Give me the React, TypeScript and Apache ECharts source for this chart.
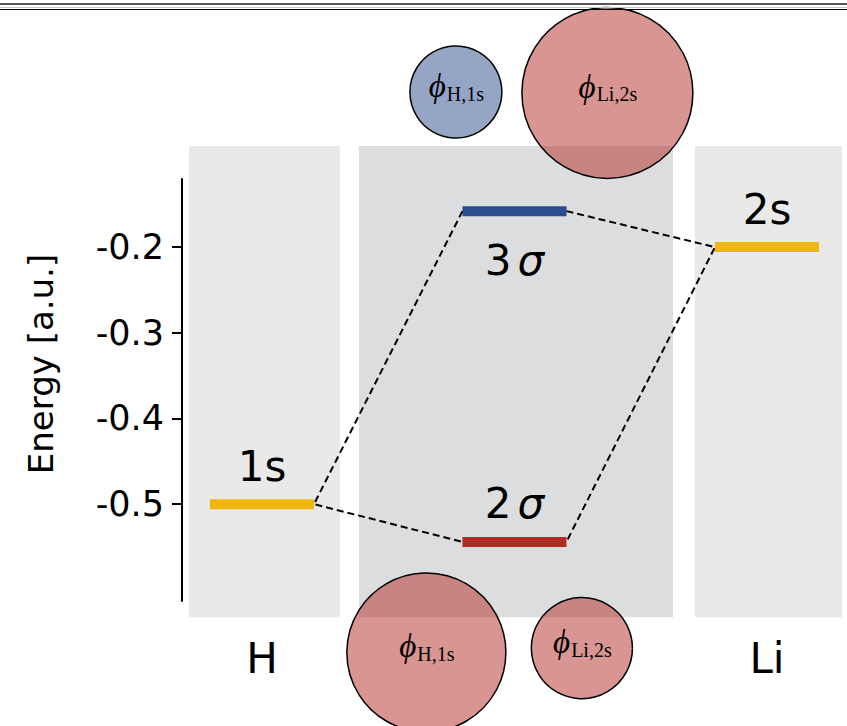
import React, { useEffect, useRef } from 'react';
import * as echarts from 'echarts';

// ---------- data ----------
const categoryNames = ['H', 'Li'];
const categoryX = [0, 2];

const levelNames = ['1s', '2s', '3σ', '2σ'];
const levelX = [0, 2, 1, 1];
const levelEnergy = [-0.5, -0.2, -0.158, -0.544];
const levelColors = ['#efb70c', '#efb70c', '#2b4c8e', '#b22b24'];
const levelLabelBelow = [false, false, true, false];

const yTicks = [-0.5, -0.4, -0.3, -0.2];

// MO coefficient circles (sign -> colour, magnitude -> size)
const orbitalX = [0.768, 1.368, 0.651, 1.267];
const orbitalY = [-0.019, -0.02, -0.673, -0.668];
const orbitalCoef = [-0.484, 0.9, 0.837, 0.532];
const orbitalLabel = ['H,1s', 'Li,2s', 'H,1s', 'Li,2s'];

// background bands
const panelStart = [-0.289, 0.384, 1.715];
const panelEnd = [0.309, 1.628, 2.297];
const panelColors = ['#e9e9e9', '#dcdddf', '#e9e9e9'];

// connectors: [levelIndex, side(-1 left, +1 right)]
const connectorA: [number, number][] = [[2, -1], [0, 1], [3, -1]];
const connectorB: [number, number][] = [[2, 1], [1, -1], [3, 1]];

// ---------- layout constants ----------
const X_MIN = -0.3168;
const X_MAX = 2.3;
const Y_MIN = -0.613;
const Y_MAX = -0.1205;
const PANEL_TOP = -0.0821;
const PANEL_BOTTOM = -0.6319;
const HALF_W = 0.206;
const BAR_H = 10;
const LABEL_ABOVE = -38;
const LABEL_BELOW = 49;
const CIRCLE_SCALE = 95;
const SANS = 'DejaVu Sans';
const SERIF = 'Liberation Serif';

const measureCtx = typeof document !== 'undefined' ? document.createElement('canvas').getContext('2d') : null;
function textWidth(t: string, font: string) {
  if (!measureCtx) return t.length * 10;
  measureCtx.font = font;
  return measureCtx.measureText(t).width;
}

function levelText(name: string) {
  const m = name.match(/^(\d)(σ)$/);
  if (m) return `{n|${m[1]}}{g|${m[2]}}`;
  return `{n|${name}}`;
}

export default function App() {
  const ref = useRef<HTMLDivElement>(null);

  useEffect(() => {
    if (!ref.current) return;
    const chart = echarts.init(ref.current, undefined, { renderer: 'svg' });

    const connectorData = (path: [number, number][]) =>
      path.map(([i, side]) => [levelX[i] + side * HALF_W, levelEnergy[i]]);

    const option: any = {
      animation: false,
      backgroundColor: '#ffffff',
      grid: { left: 182, top: 179, right: 4.3, bottom: 125 },
      xAxis: {
        type: 'value',
        min: X_MIN,
        max: X_MAX,
        axisLine: { show: false, onZero: false },
        axisTick: { show: false },
        splitLine: { show: false },
        axisLabel: {
          customValues: categoryX,
          formatter: (v: number) => categoryNames[categoryX.indexOf(v)] ?? '',
          fontSize: 42,
          fontFamily: SANS,
          color: '#000',
          margin: 36,
        },
      },
      yAxis: {
        type: 'value',
        min: Y_MIN,
        max: Y_MAX,
        axisLine: { show: true, onZero: false, lineStyle: { color: '#000', width: 2 } },
        axisTick: { show: true, length: 10, customValues: yTicks, lineStyle: { color: '#000', width: 2 } },
        axisLabel: {
          customValues: yTicks,
          formatter: (v: number) => v.toFixed(1),
          fontSize: 35,
          fontFamily: SANS,
          color: '#000',
          margin: 18,
        },
        splitLine: { show: false },
        name: 'Energy [a.u.]',
        nameLocation: 'middle',
        nameGap: 124,
        nameTextStyle: { fontSize: 34, fontFamily: SANS, color: '#000', padding: [0, 0, 0, 52] },
      },
      series: [
        {
          type: 'custom',
          name: 'panels',
          z: 0,
          data: panelStart.map((s, i) => [s, panelEnd[i], i]),
          renderItem: (params: any, api: any) => {
            const i = api.value(2);
            const p0 = api.coord([api.value(0), PANEL_TOP]);
            const p1 = api.coord([api.value(1), PANEL_BOTTOM]);
            return {
              type: 'rect',
              shape: { x: p0[0], y: p0[1], width: p1[0] - p0[0], height: p1[1] - p0[1] },
              style: { fill: panelColors[i] },
            };
          },
        },
        {
          type: 'custom',
          name: 'levels',
          z: 2,
          data: levelX.map((x, i) => [x, levelEnergy[i], i]),
          renderItem: (params: any, api: any) => {
            const i = api.value(2);
            const x = api.value(0);
            const e = api.value(1);
            const p0 = api.coord([x - HALF_W, e]);
            const p1 = api.coord([x + HALF_W, e]);
            return {
              type: 'group',
              children: [
                {
                  type: 'rect',
                  shape: { x: p0[0], y: p0[1] - BAR_H / 2, width: p1[0] - p0[0], height: BAR_H },
                  style: { fill: levelColors[i] },
                },
                {
                  type: 'text',
                  x: (p0[0] + p1[0]) / 2,
                  y: p0[1] + (levelLabelBelow[i] ? LABEL_BELOW : LABEL_ABOVE),
                  style: {
                    text: levelText(levelNames[i]),
                    align: 'center',
                    verticalAlign: 'middle',
                    fill: '#000',
                    rich: {
                      n: { fontSize: 42, fontFamily: SANS, fill: '#000' },
                      g: { fontSize: 42, fontFamily: SANS, fontStyle: 'italic', fill: '#000', padding: [0, 0, 0, 6] },
                    },
                  },
                },
              ],
            };
          },
        },
        {
          type: 'line',
          name: 'connA',
          z: 3,
          data: connectorData(connectorA),
          showSymbol: false,
          symbol: 'none',
          lineStyle: { color: '#000', width: 2, type: [7, 4] },
        },
        {
          type: 'line',
          name: 'connB',
          z: 3,
          data: connectorData(connectorB),
          showSymbol: false,
          symbol: 'none',
          lineStyle: { color: '#000', width: 2, type: [7, 4] },
        },
        {
          type: 'custom',
          name: 'orbitals',
          z: 4,
          data: orbitalX.map((x, i) => [x, orbitalY[i], orbitalCoef[i], i]),
          renderItem: (params: any, api: any) => {
            const i = api.value(3);
            const c = api.value(2);
            const p = api.coord([api.value(0), api.value(1)]);
            const r = Math.abs(c) * CIRCLE_SCALE;
            const fill = c >= 0 ? 'rgba(178,43,36,0.5)' : 'rgba(43,76,142,0.5)';
            const phiFont = `italic 33px '${SERIF}'`;
            const subFont = `20px '${SERIF}'`;
            const wPhi = textWidth('ϕ', phiFont);
            const wSub = textWidth(orbitalLabel[i], subFont);
            const split = p[0] - (wSub - wPhi) / 2;
            return {
              type: 'group',
              children: [
                {
                  type: 'circle',
                  shape: { cx: p[0], cy: p[1], r },
                  style: { fill, stroke: '#000', lineWidth: 1.5 },
                },
                {
                  type: 'text',
                  x: split,
                  y: p[1] - 6,
                  style: {
                    text: 'ϕ',
                    fontSize: 33,
                    fontStyle: 'italic',
                    fontFamily: SERIF,
                    fill: '#000',
                    align: 'right',
                    verticalAlign: 'middle',
                  },
                },
                {
                  type: 'text',
                  x: split + 1,
                  y: p[1] + 1.5,
                  style: {
                    text: orbitalLabel[i],
                    fontSize: 20,
                    fontFamily: SERIF,
                    fill: '#000',
                    align: 'left',
                    verticalAlign: 'middle',
                  },
                },
              ],
            };
          },
        },
      ],
      graphic: [
        { type: 'rect', z: 100, shape: { x: 0, y: 3, width: 847, height: 2 }, style: { fill: '#555555' } },
        { type: 'rect', z: 100, shape: { x: 0, y: 7, width: 847, height: 1 }, style: { fill: '#c4c4c4' } },
        { type: 'rect', z: 100, shape: { x: 0, y: 9, width: 847, height: 1 }, style: { fill: '#000000' } },
      ],
    };

    chart.setOption(option);
    return () => chart.dispose();
  }, []);

  return (
    <div
      ref={ref}
      style={{ position: 'absolute', left: 0, top: 0, width: 847, height: 726 }}
    />
  );
}
